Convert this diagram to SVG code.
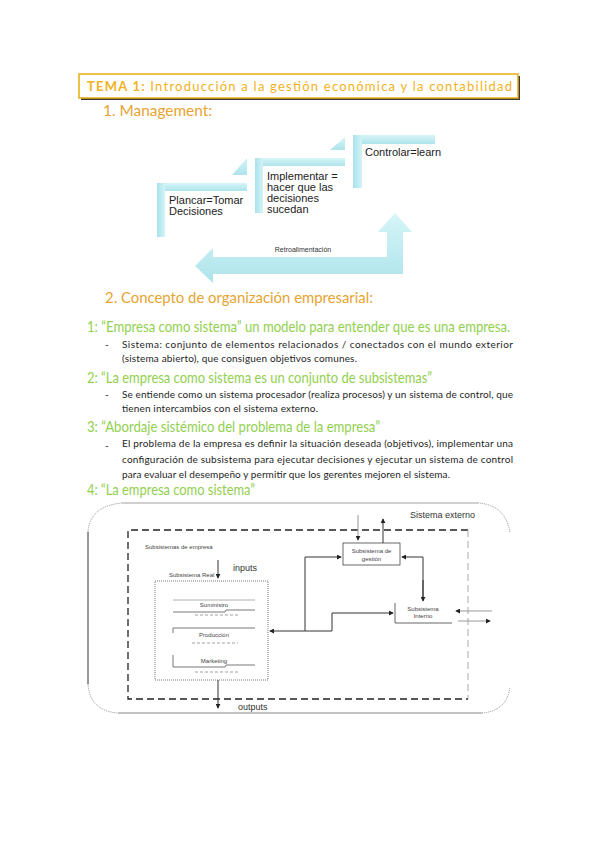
<svg xmlns="http://www.w3.org/2000/svg" width="599" height="848" viewBox="0 0 599 848">
<defs>
<linearGradient id="cy" x1="0" y1="0" x2="0" y2="1">
<stop offset="0" stop-color="#D6F5F8"/>
<stop offset="1" stop-color="#AEE4EB"/>
</linearGradient>
<linearGradient id="cyh" x1="0" y1="0" x2="1" y2="0">
<stop offset="0" stop-color="#A9E2EA"/>
<stop offset="1" stop-color="#D3F4F7"/>
</linearGradient>
<marker id="ah" viewBox="0 0 6 6" refX="5" refY="3" markerWidth="5" markerHeight="5" orient="auto">
<path d="M0,0 L6,3 L0,6 z" fill="#222"/>
</marker>
</defs>
<style>
.h1{font-family:Lato,"Liberation Sans",sans-serif;font-size:16px;fill:#E6A431;font-weight:normal}
.gr{font-family:Lato,"Liberation Sans",sans-serif;font-size:15px;fill:#92D050}
.bd{font-family:Lato,"Liberation Sans",sans-serif;font-size:10px;fill:#1E1E1E}
.md{font-family:"Liberation Sans",Arial,sans-serif;font-size:11px;fill:#222}
.sm{font-family:"Liberation Sans",Arial,sans-serif;font-size:6px;fill:#444}
.lb{font-family:"Liberation Sans",Arial,sans-serif;font-size:9px;fill:#333}
.band{fill:url(#cy)}
.vband{fill:url(#cyh)}
.ln{stroke:#333;stroke-width:1;fill:none}
.lg{stroke:#999;stroke-width:1;fill:none}
</style>
<rect width="599" height="848" fill="#fff"/>

<!-- Title -->
<g id="title">
<rect x="81" y="76" width="439" height="24" fill="#3a3a3a"/>
<rect x="79" y="74" width="439" height="24" fill="#fff" stroke="#E3AE12" stroke-width="1.5"/>
<text x="87" y="90.5" font-family="Lato,'Liberation Sans',sans-serif" font-size="13" fill="#F2B222" textLength="425" lengthAdjust="spacing"><tspan font-weight="bold">TEMA 1:</tspan> Introducción a la gestión económica y la contabilidad</text>
</g>
<text class="h1" x="103" y="116" textLength="109" lengthAdjust="spacingAndGlyphs">1.  Management:</text>

<!-- Management diagram -->
<g id="feedback">
<polygon class="band" points="195,266 213,248 213,257 387,257 387,232 378,232 395,213 412,232 403,232 403,274 213,274 213,283"/>
<text x="303" y="252" text-anchor="middle" font-family="'Liberation Sans',Arial,sans-serif" font-size="7" fill="#333">Retroalimentación</text>
</g>
<g id="plancar">
<polygon class="band" points="232,175 247,158 247,175"/>
<rect class="band" x="157" y="183" width="90" height="8"/>
<rect class="vband" x="157" y="183" width="8" height="54"/>
<text class="md" x="169" y="204">Plancar=Tomar</text>
<text class="md" x="169" y="215">Decisiones</text>
</g>
<g id="implementar">
<polygon class="band" points="330,150 345,137 345,150"/>
<rect class="band" x="255" y="158" width="90" height="8"/>
<rect class="vband" x="255" y="158" width="8" height="55"/>
<text class="md" x="267" y="180">Implementar =</text>
<text class="md" x="267" y="191">hacer que las</text>
<text class="md" x="267" y="202">decisiones</text>
<text class="md" x="267" y="213">sucedan</text>
</g>
<g id="controlar">
<rect class="band" x="353" y="135" width="82" height="9"/>
<rect class="vband" x="353" y="135" width="9" height="53"/>
<text class="md" x="365" y="156">Controlar=learn</text>
</g>

<!-- Section 2 -->
<text class="h1" x="105" y="303" textLength="268" lengthAdjust="spacingAndGlyphs">2.  Concepto de organización empresarial:</text>

<text class="gr" x="87" y="332" textLength="423" lengthAdjust="spacingAndGlyphs">1: “Empresa como sistema” un modelo para entender que es una empresa.</text>
<text class="bd" x="105" y="348">-</text>
<text class="bd" x="122" y="348" textLength="391" lengthAdjust="spacing">Sistema: conjunto de elementos relacionados / conectados con el mundo exterior</text>
<text class="bd" x="122" y="362" textLength="235" lengthAdjust="spacing">(sistema abierto), que consiguen objetivos comunes.</text>

<text class="gr" x="87" y="383" textLength="345" lengthAdjust="spacingAndGlyphs">2: “La empresa como sistema es un conjunto de subsistemas”</text>
<text class="bd" x="105" y="398">-</text>
<text class="bd" x="122" y="398" textLength="391" lengthAdjust="spacing">Se entiende como un sistema procesador (realiza procesos) y un sistema de control, que</text>
<text class="bd" x="122" y="412" textLength="196" lengthAdjust="spacing">tienen intercambios con el sistema externo.</text>

<text class="gr" x="87" y="432" textLength="293" lengthAdjust="spacingAndGlyphs">3: “Abordaje sistémico del problema de la empresa”</text>
<text class="bd" x="105" y="449">-</text>
<text class="bd" x="122" y="447" textLength="391" lengthAdjust="spacing">El problema de la empresa es definir la situación deseada (objetivos), implementar una</text>
<text class="bd" x="122" y="463" textLength="391" lengthAdjust="spacing">configuración de subsistema para ejecutar decisiones y ejecutar un sistema de control</text>
<text class="bd" x="122" y="478" textLength="328" lengthAdjust="spacing">para evaluar el desempeño y permitir que los gerentes mejoren el sistema.</text>

<text class="gr" x="87" y="495" textLength="168" lengthAdjust="spacingAndGlyphs">4: “La empresa como sistema”</text>

<!-- Bottom diagram -->
<g id="sistema-externo">
<path d="M122,503 L478,503" stroke="#d0d0d0" stroke-width="2" fill="none"/>
<path d="M88,532 Q90,506 122,503" stroke="#777" stroke-width="0.8" stroke-dasharray="1,1" fill="none"/>
<path d="M478,503 Q506,505 510,533" stroke="#777" stroke-width="0.8" stroke-dasharray="1,1" fill="none"/>
<path d="M88,532 L88,684" stroke="#555" stroke-width="1.2" fill="none"/>
<path d="M88,684 Q90,711 118,713" stroke="#777" stroke-width="0.8" stroke-dasharray="1,1" fill="none"/>
<path d="M118,713 L482,713" stroke="#888" stroke-width="1" fill="none"/>
<path d="M482,713 Q507,711 510,687" stroke="#777" stroke-width="0.8" stroke-dasharray="1,1" fill="none"/>
<text class="lb" x="410" y="518">Sistema externo</text>
</g>
<g id="subsistemas-empresa">
<path d="M468,530 L128,530 L128,699 L468,699" stroke="#222" stroke-width="1.3" stroke-dasharray="7,4" fill="none"/>
<path d="M468,530 L468,699" stroke="#aaa" stroke-width="1" stroke-dasharray="7,4" fill="none"/>
<text class="sm" x="145" y="549">Subsistemas de empresa</text>
</g>
<g id="subsistema-real">
<rect x="155" y="581" width="113" height="99" fill="none" stroke="#555" stroke-width="0.8" stroke-dasharray="1,1"/>
<text class="sm" x="169" y="577" font-size="4.5">Subsistema Real</text>
<g id="suministro">
<path d="M173,600 L255,600" stroke="#999" stroke-width="0.8"/>
<text class="sm" x="214" y="607" text-anchor="middle">Suministro</text>
<path d="M173,612 L225,612 L226,610 L255,610" stroke="#555" stroke-width="0.8" fill="none"/>
<path d="M195,615 L240,615" stroke="#777" stroke-width="0.7" stroke-dasharray="3,2"/>
</g>
<g id="produccion">
<path d="M173,633 L173,628 L255,628" stroke="#555" stroke-width="0.8" fill="none"/>
<text class="sm" x="214" y="637" text-anchor="middle">Producción</text>
<path d="M192,643 L238,643" stroke="#777" stroke-width="0.7" stroke-dasharray="3,2"/>
</g>
<g id="marketing">
<path d="M173,655 L173,667 L225,667 L226,665 L255,665" stroke="#555" stroke-width="0.8" fill="none"/>
<text class="sm" x="214" y="663" text-anchor="middle">Marketing</text>
<path d="M195,672 L240,672" stroke="#777" stroke-width="0.7" stroke-dasharray="3,2"/>
</g>
</g>
<g id="gestion">
<rect x="343" y="543" width="57" height="22" fill="#fff" stroke="#444" stroke-width="0.8"/>
<text class="sm" x="371.5" y="553" text-anchor="middle">Subsistema de</text>
<text class="sm" x="371.5" y="561" text-anchor="middle">gestión</text>
</g>
<g id="interno">
<path d="M395,603 L395,623 L452,623" stroke="#555" stroke-width="0.9" fill="none"/>
<text class="sm" x="423" y="611" text-anchor="middle">Subsistema</text>
<text class="sm" x="423" y="618" text-anchor="middle" fill="#8a5a20">Interno</text>
</g>
<text class="lb" x="233" y="571">inputs</text>
<text class="lb" x="238" y="710">outputs</text>

<g id="connectors">
<path class="ln" d="M218,560 L218,578" marker-end="url(#ah)"/>
<path class="ln" d="M218,680 L218,708" marker-end="url(#ah)"/>
<path class="lg" d="M358,515 L358,540" marker-end="url(#ah)"/>
<path class="ln" d="M383,543 L383,519" marker-end="url(#ah)"/>
<path class="ln" d="M305,631 L305,557 L341,557" marker-end="url(#ah)"/>
<path class="ln" d="M305,631 L270,631" marker-end="url(#ah)"/>
<path class="ln" d="M305,631 L332,631 L332,613 L393,613" marker-end="url(#ah)"/>
<path class="ln" d="M423,600 L423,557 L402,557" marker-end="url(#ah)"/>
<path class="ln" d="M423,580 L423,601" marker-end="url(#ah)"/>
<path class="lg" d="M492,611 L456,611" marker-end="url(#ah)"/>
<path class="lg" d="M458,621 L490,621" marker-end="url(#ah)"/>
</g>
</svg>
